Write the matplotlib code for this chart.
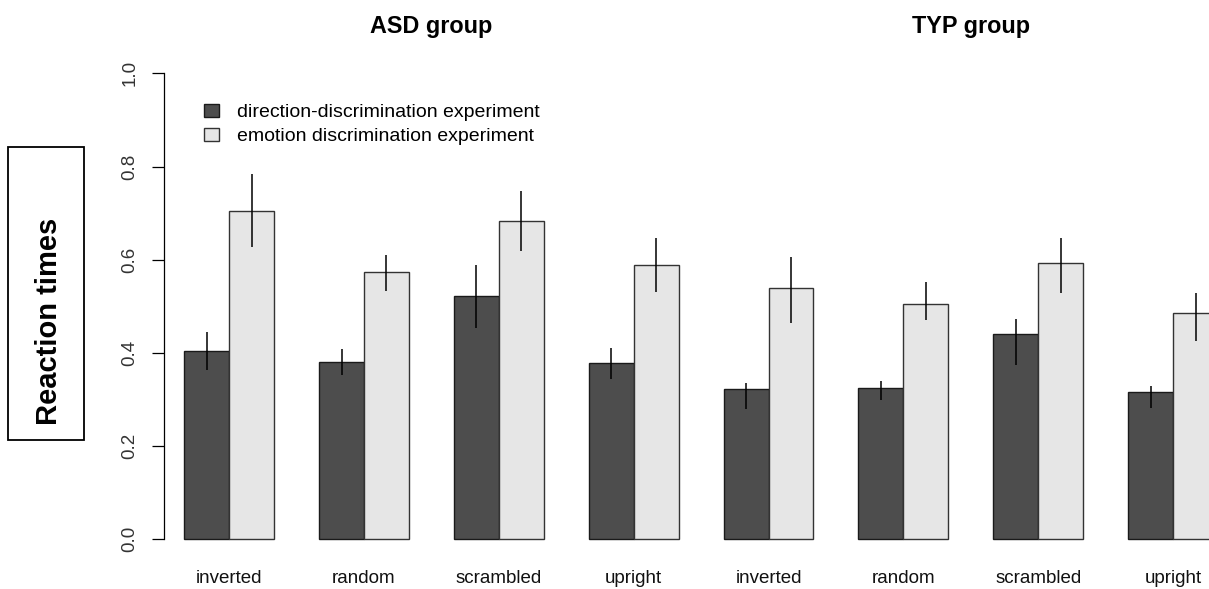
import matplotlib
matplotlib.use("Agg")
import matplotlib.pyplot as plt
import numpy as np
from matplotlib.patches import Rectangle, Patch
from matplotlib.transforms import blended_transform_factory

plt.rcParams["font.family"] = ["Liberation Sans", "DejaVu Sans"]

# values
groups = ["ASD group", "TYP group"]
conditions = ["inverted", "random", "scrambled", "upright"]
series_names = ["direction-discrimination experiment", "emotion discrimination experiment"]

asd_dir = [0.405, 0.380, 0.522, 0.378]
asd_dir_lo = [0.363, 0.353, 0.454, 0.345]
asd_dir_hi = [0.444, 0.408, 0.589, 0.410]
asd_emo = [0.705, 0.573, 0.684, 0.588]
asd_emo_lo = [0.627, 0.533, 0.619, 0.531]
asd_emo_hi = [0.783, 0.610, 0.748, 0.647]

typ_dir = [0.322, 0.325, 0.441, 0.315]
typ_dir_lo = [0.280, 0.299, 0.373, 0.281]
typ_dir_hi = [0.336, 0.339, 0.472, 0.328]
typ_emo = [0.540, 0.506, 0.594, 0.485]
typ_emo_lo = [0.464, 0.470, 0.528, 0.425]
typ_emo_hi = [0.605, 0.552, 0.647, 0.528]

dark = "#4D4D4D"
light = "#E6E6E6"

W, H = 1209, 589
fig = plt.figure(figsize=(W / 100, H / 100), dpi=100)
ax = fig.add_axes([164 / W, 1 - 557.9 / H, 1 - 164 / W, (557.9 - 54.7) / H])

dir_vals = np.array(asd_dir + typ_dir)
emo_vals = np.array(asd_emo + typ_emo)
dir_lo = np.array(asd_dir_lo + typ_dir_lo)
dir_hi = np.array(asd_dir_hi + typ_dir_hi)
emo_lo = np.array(asd_emo_lo + typ_emo_lo)
emo_hi = np.array(asd_emo_hi + typ_emo_hi)

n = len(dir_vals)
left = 1 + 3 * np.arange(n)  # R barplot, beside=TRUE, space=c(0,1)

ax.bar(left, dir_vals, width=1, align="edge", color=dark, edgecolor="#1a1a1a", linewidth=1.0)
ax.bar(left + 1, emo_vals, width=1, align="edge", color=light, edgecolor="#333333", linewidth=1.0)
ax.vlines(left + 0.5, dir_lo, dir_hi, color="black", linewidth=1.1)
ax.vlines(left + 1.5, emo_lo, emo_hi, color="black", linewidth=1.1)

ax.set_xlim(0.55, 23.8)
ax.set_ylim(-0.04, 1.04)

for s in ["top", "right", "bottom"]:
    ax.spines[s].set_visible(False)
ax.spines["left"].set_bounds(0, 1)
ax.spines["left"].set_linewidth(0.9)

ax.set_yticks([0.0, 0.2, 0.4, 0.6, 0.8, 1.0])
ax.set_yticklabels(["0.0", "0.2", "0.4", "0.6", "0.8", "1.0"])
ax.tick_params(axis="y", length=8.6, width=0.9, pad=10, labelsize=13.5, labelcolor="#333333")
for lab in ax.get_yticklabels():
    lab.set_rotation(90)
    lab.set_va("center")

ax.set_xticks(left + 1)
ax.set_xticklabels(conditions * 2)
ax.tick_params(axis="x", length=0, pad=9, labelsize=13.5, labelcolor="#111111")

# group titles centred over each half
tr = blended_transform_factory(ax.transData, fig.transFigure)
for i, g in enumerate(groups):
    xc = (left[4 * i] + left[4 * i + 3] + 2) / 2
    ax.text(xc, 1 - 33.3 / H, g, transform=tr, ha="center", va="baseline",
            fontsize=16.8, fontweight="bold")

handles = [Patch(facecolor=dark, edgecolor="#1a1a1a", linewidth=1.0),
           Patch(facecolor=light, edgecolor="#333333", linewidth=1.0)]
fig.legend(handles, series_names, loc="upper left", bbox_to_anchor=(204 / W, 1 - 104 / H),
           frameon=False, fontsize=14, borderpad=0, handlelength=0.75, handleheight=0.68,
           handletextpad=0.93, labelspacing=0.31, borderaxespad=0)

# boxed y label
fig.patches.append(Rectangle((8.3 / W, 1 - 440 / H), 75.5 / W, 293.3 / H, transform=fig.transFigure,
                             fill=False, edgecolor="black", linewidth=1.3))
fig.text(49 / W, 1 - 321.5 / H, "Reaction times", rotation=90, ha="center", va="center",
         fontsize=21, fontweight="bold")

fig.savefig("out.png", dpi=100)
